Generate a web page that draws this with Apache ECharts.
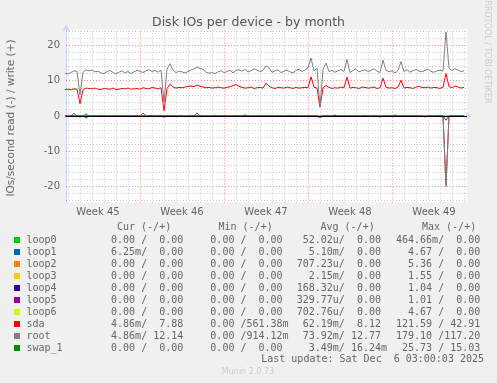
<!DOCTYPE html>
<html><head><meta charset="utf-8">
<script src="https://cdn.jsdelivr.net/npm/echarts@6/dist/echarts.min.js"></script>
<style>html,body{margin:0;padding:0;background:#F0F0F0}#c{width:497px;height:383px}</style>
</head><body><div id="c"></div>
<script>
// ---------- data ----------
const chartTitle = 'Disk IOs per device - by month';
const yAxisTitle = 'IOs/second read (-) / write (+)';
// x unit: hours since Sun 2025-11-02 00:00
const startHour = 18, stepHours = 6;
const xMin = 20, xMax = 822;
const weekCenters = [84, 252, 420, 588, 756];
const weekLabels = ['Week 45', 'Week 46', 'Week 47', 'Week 48', 'Week 49'];
const yLabelValues = [-20, -10, 0, 10, 20];

const rootWrite = [
 12.1,11.9,12.3,12.8,12.6,6.0,12.4,13.1,12.8,13.0,
 12.5,12.7,12.2,12.0,12.6,12.9,12.3,11.9,12.4,12.8,
 12.2,12.6,12.0,12.5,12.9,12.7,12.3,12.8,13.1,12.6,
 12.9,12.4,13.0,4.0,13.2,14.8,13.0,12.3,12.7,12.5,
 12.2,12.6,13.0,13.4,13.8,13.5,13.2,12.4,12.1,12.3,
 12.0,12.5,12.8,12.3,12.6,13.0,12.2,12.9,13.1,12.7,
 13.2,12.5,12.8,13.4,13.0,12.6,12.9,14.2,13.6,12.4,
 12.8,13.1,12.3,12.7,13.0,12.5,12.2,12.9,13.2,12.6,
 13.0,13.7,16.4,12.8,13.5,2.6,13.2,15.0,12.6,12.9,
 12.4,12.8,13.2,12.6,16.0,12.3,12.9,13.3,12.5,12.8,
 13.1,12.6,12.9,13.4,12.7,12.3,15.8,13.0,12.5,12.8,
 12.2,12.9,15.4,12.6,13.1,12.4,12.8,13.2,12.7,12.5,
 12.9,13.3,12.6,12.4,12.8,13.0,12.7,23.8,13.5,12.9,
 13.4,13.0,12.6,12.8
];
const sdaWrite = [
 7.5,7.6,7.4,7.7,7.6,3.5,7.5,7.9,7.8,7.7,
 7.9,7.6,7.5,7.8,7.7,7.6,7.9,7.5,7.6,7.8,
 7.7,7.9,7.6,7.7,7.8,7.6,8.0,7.8,7.7,8.1,
 7.9,7.7,8.0,1.5,7.8,9.0,8.2,7.9,8.1,8.0,
 8.2,8.4,8.5,8.3,8.8,8.4,8.2,8.0,8.1,7.9,
 8.0,8.2,8.0,7.9,8.1,8.3,8.6,8.9,8.4,8.1,
 7.9,8.0,8.2,7.8,8.0,8.1,7.9,9.3,8.4,8.0,
 7.8,8.1,8.0,7.9,8.2,8.0,7.8,8.1,7.9,8.0,
 8.1,8.0,11.1,8.2,7.9,2.5,8.0,8.6,8.1,7.8,
 8.0,7.9,8.2,8.0,11.0,7.9,8.1,8.0,7.8,8.2,
 8.1,7.9,8.0,8.2,7.8,8.0,10.7,8.1,7.9,8.0,
 7.8,8.2,10.1,7.9,8.1,8.0,7.8,8.2,8.4,8.1,
 8.0,8.2,7.9,8.1,8.0,7.8,8.2,12.0,8.3,8.0,
 8.5,8.2,7.9,8.1
];
// sparse series: [sample index, value]; other samples are 0
const rootRead = [[5,-0.3],[33,-0.4],[85,-0.5],[127,-20.0]];
const sdaRead = [[85,-0.4],[127,-19.5]];
const swapWrite = [[3,0.7],[7,0.6],[12,0.2],[26,0.8],[44,0.9],[50,0.2],[60,0.3],[75,0.2],[90,0.3],[100,0.2],[110,0.3],[125,0.2]];
const swapRead = [[7,-0.6],[40,-0.2],[85,-0.3],[105,-0.3],[120,-0.3],[127,-1.2]];

const legendNames = ['loop0','loop1','loop2','loop3','loop4','loop5','loop6','sda','root','swap_1'];
const legendColors = ['#00CC00','#0066B3','#FF8000','#FFCC00','#330099','#990099','#CCFF00','#FF0000','#808080','#008F00'];
const colHeaders = ['Cur (-/+)','Min (-/+)','Avg (-/+)','Max (-/+)'];
const curCol = ['  0.00 /  0.00 ','  6.25m/  0.00 ','  0.00 /  0.00 ','  0.00 /  0.00 ','  0.00 /  0.00 ','  0.00 /  0.00 ','  0.00 /  0.00 ','  4.86m/  7.88 ','  4.86m/ 12.14 ','  0.00 /  0.00 '];
const minCol = ['  0.00 /  0.00 ','  0.00 /  0.00 ','  0.00 /  0.00 ','  0.00 /  0.00 ','  0.00 /  0.00 ','  0.00 /  0.00 ','  0.00 /  0.00 ','  0.00 /561.38m','  0.00 /914.12m','  0.00 /  0.00 '];
const avgCol = [' 52.02u/  0.00 ','  5.10m/  0.00 ','707.23u/  0.00 ','  2.15m/  0.00 ','168.32u/  0.00 ','329.77u/  0.00 ','702.76u/  0.00 ',' 62.19m/  8.12 ',' 73.92m/ 12.77 ','  3.49m/ 16.24m'];
const maxCol = ['464.66m/  0.00 ','  4.67 /  0.00 ','  5.36 /  0.00 ','  1.55 /  0.00 ','  1.04 /  0.00 ','  1.01 /  0.00 ','  4.67 /  0.00 ','121.59 / 42.91 ','179.10 /117.20 ',' 25.73 / 15.03 '];
const lastUpdate = 'Last update: Sat Dec  6 03:00:03 2025';
const muninVersion = 'Munin 2.0.73';
const rrdCredit = 'RRDTOOL / TOBI OETIKER';

// ---------- build ----------
const N = rootWrite.length;
const xOf = i => startHour + stepHours * i;
const dense = arr => arr.map((v, i) => [xOf(i), v]);
const sparse = list => { const a = new Array(N).fill(0); list.forEach(([i, v]) => a[i] = v); return dense(a); };

const FONT = 'DejaVu Sans';
const MONO = 'DejaVu Sans Mono';
const TXT = '#666666';
const AXIS = '#CFD6F8';
const minorGrid = { color: 'rgba(140,140,140,0.45)', width: 1, type: [1, 2] };
const majorGrid = { color: 'rgba(230,60,60,0.55)', width: 1, type: [1, 2] };

const gridLines = [];
for (let h = 24; h < xMax; h += 24) gridLines.push({ xAxis: h, lineStyle: (h % 168 === 0) ? majorGrid : minorGrid });
for (let y = -24; y <= 24; y += 2) gridLines.push({ yAxis: y, lineStyle: (y % 10 === 0) ? majorGrid : minorGrid });

function lineSeries(name, data, color, z) {
  return { name, type: 'line', data, showSymbol: false, symbol: 'none', z: z || 2,
    lineStyle: { color, width: 1 }, itemStyle: { color }, animation: false, silent: true };
}

const series = [
  { type: 'line', data: [], z: 0, silent: true, animation: false,
    markLine: { silent: true, symbol: ['none','none'], label: { show: false }, animation: false, data: gridLines } },
  lineSeries('sda read', sparse(sdaRead), '#FF0000'),
  lineSeries('sda write', dense(sdaWrite), '#FF0000'),
  lineSeries('root read', sparse(rootRead), '#808080'),
  lineSeries('root write', dense(rootWrite), '#808080'),
  lineSeries('swap_1 read', sparse(swapRead), '#008F00'),
  lineSeries('swap_1 write', sparse(swapWrite), '#008F00'),
  { type: 'line', data: [], z: 5, silent: true, animation: false,
    markLine: { silent: true, symbol: ['none','none'], label: { show: false }, animation: false,
      data: [{ yAxis: 0, lineStyle: { color: '#000', width: 1.2, type: 'solid' } }] } }
];

const graphic = [];
graphic.push({ type: 'text', x: 11, y: 118, rotation: Math.PI / 2, style: { text: yAxisTitle, font: '10.5px "' + FONT + '"', fill: TXT, textAlign: 'center', textVerticalAlign: 'middle' } });
graphic.push({ type: 'text', rotation: -Math.PI / 2, x: 487, y: 52, style: { text: rrdCredit, font: '8px "' + FONT + '"', fill: '#CCCCCC', textAlign: 'center', textVerticalAlign: 'middle' } });
const colX = [99, 198.3, 296.7, 396];
const headX = [117, 218.5, 320.5, 422];
colHeaders.forEach((h, k) => graphic.push({ type: 'text', x: headX[k], y: 227, style: { text: h, font: '10px "' + MONO + '"', fill: TXT, textVerticalAlign: 'middle' } }));
const cols = [curCol, minCol, avgCol, maxCol];
legendNames.forEach((n, r) => {
  const y = 240 + 12 * r;
  graphic.push({ type: 'rect', shape: { x: 14, y: y - 3, width: 6, height: 6 }, style: { fill: legendColors[r] } });
  graphic.push({ type: 'text', x: 26.5, y, style: { text: n, font: '10px "' + MONO + '"', fill: TXT, textVerticalAlign: 'middle' } });
  cols.forEach((c, k) => graphic.push({ type: 'text', x: colX[k], y, style: { text: c[r], font: '10px "' + MONO + '"', fill: TXT, textVerticalAlign: 'middle' } }));
});
graphic.push({ type: 'text', x: 484, y: 359.5, style: { text: lastUpdate, font: '10px "' + MONO + '"', fill: TXT, textAlign: 'right', textVerticalAlign: 'middle' } });
graphic.push({ type: 'text', x: 248, y: 372, style: { text: muninVersion, font: '8px "' + FONT + '"', fill: '#CCCCCC', textAlign: 'center', textVerticalAlign: 'middle' } });

const chart = echarts.init(document.getElementById('c'), null, { renderer: 'canvas' });
chart.setOption({
  backgroundColor: '#F0F0F0',
  animation: false,
  title: { text: chartTitle, left: 'center', top: 11, textStyle: { fontFamily: FONT, fontSize: 12.5, fontWeight: 'normal', color: '#555555' } },
  grid: { left: 66, right: 30, top: 29.5, bottom: 180.5, show: true, backgroundColor: '#FFFFFF', borderWidth: 0 },
  xAxis: { type: 'value', min: xMin, max: xMax,
    axisLine: { show: true, lineStyle: { color: AXIS, width: 1 }, symbol: ['none', 'arrow'], symbolSize: [6, 7], symbolOffset: [0, 5] },
    axisTick: { show: false }, splitLine: { show: false },
    axisLabel: { customValues: weekCenters, formatter: v => weekLabels[weekCenters.indexOf(v)] || '', color: TXT, fontFamily: FONT, fontSize: 10, margin: 5 } },
  yAxis: { type: 'value', min: -24.5, max: 24.5,
    axisLine: { show: true, onZero: false, lineStyle: { color: AXIS, width: 1 }, symbol: ['none', 'arrow'], symbolSize: [6, 7], symbolOffset: [0, 5] },
    axisTick: { show: false }, splitLine: { show: false },
    axisLabel: { customValues: yLabelValues, color: TXT, fontFamily: FONT, fontSize: 10, margin: 6 } },
  graphic,
  series
});
</script></body></html>
